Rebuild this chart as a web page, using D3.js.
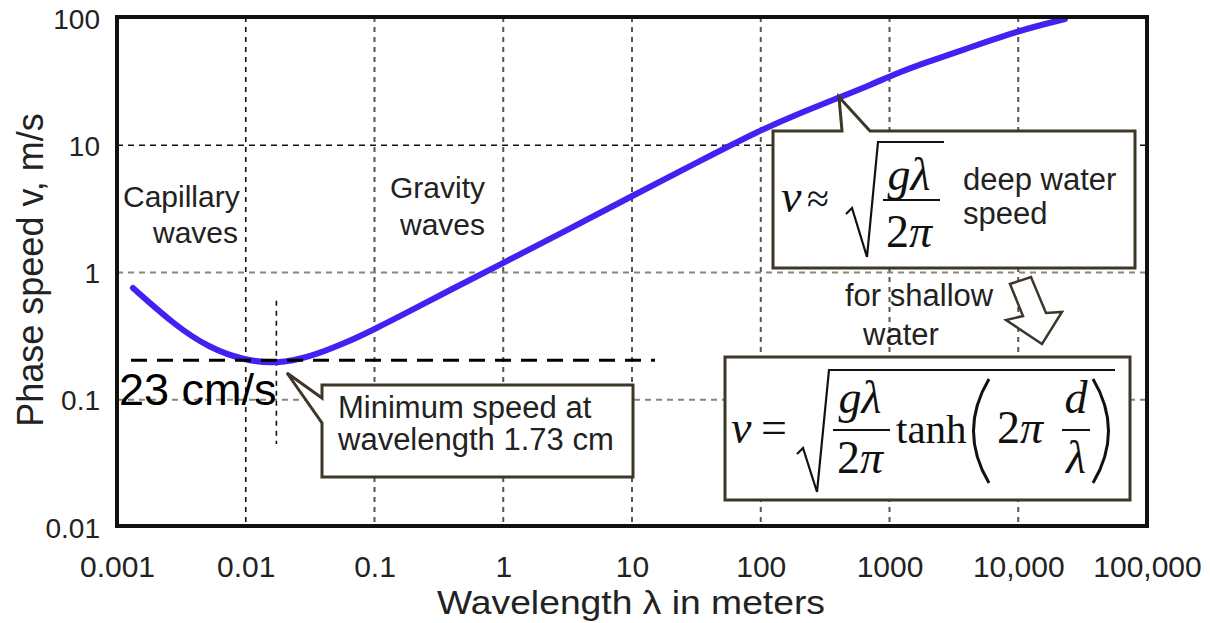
<!DOCTYPE html>
<html>
<head>
<meta charset="utf-8">
<script src="https://cdn.jsdelivr.net/npm/d3@7"></script>
<style>
  html, body { margin: 0; padding: 0; background: #fff; }
  svg { display: block; }
  text { font-family: "Liberation Sans", Arial, Helvetica, sans-serif; }
  .math { font-family: "Liberation Serif", "Times New Roman", serif; }
</style>
</head>
<body>
<div id="chart"></div>
<script>
// ---------------- data ----------------
const xTickValues = [0.001, 0.01, 0.1, 1, 10, 100, 1000, 10000, 100000];
const xTickLabels = ["0.001", "0.01", "0.1", "1", "10", "100", "1000", "10,000", "100,000"];
const yTickValues = [0.01, 0.1, 1, 10, 100];
const yTickLabels = ["0.01", "0.1", "1", "10", "100"];

// phase speed curve (wavelength in m, speed in m/s)
const wavelengths = [0.00133, 0.00292, 0.00527, 0.00953, 0.0175, 0.0316, 0.0569, 0.0973, 0.189, 0.386, 1.0, 2.76, 10, 33.7, 100, 202, 413, 706, 1208, 2065, 3532, 9772, 23070];
const speeds      = [0.755,   0.373,   0.255,   0.205,   0.191,  0.217,  0.274,  0.353,  0.498, 0.728, 1.19, 2.01, 3.99, 7.52, 13.2, 17.9, 23.9, 29.7, 37.7, 45.9, 55.1, 79.1, 98.2];

const minWavelength = 0.0173;  // m
const minSpeedLine = 0.204;    // m/s (dashed level)
const regionLabels = [
  { lines: ["Capillary", "waves"] },
  { lines: ["Gravity", "waves"] }
];

// ---------------- layout ----------------
const W = 1210, H = 623;
const plot = { left: 117, right: 1147, top: 17, bottom: 526 };

const svg = d3.select("#chart").append("svg").attr("width", W).attr("height", H);

const x = d3.scaleLog().domain([0.001, 100000]).range([plot.left, plot.right]);
const y = d3.scaleLog().domain([0.01, 100]).range([527, 18]);

// ---------------- grid ----------------
const grid = svg.append("g");
grid.selectAll("line.vg").data(xTickValues.slice(1, -1)).enter().append("line")
  .attr("x1", d => x(d)).attr("x2", d => x(d))
  .attr("y1", plot.top).attr("y2", plot.bottom)
  .attr("stroke", (d, i) => i === 0 ? "#111" : "#555")
  .attr("stroke-width", (d, i) => i === 0 ? 1.6 : 2)
  .attr("stroke-dasharray", "5,5");
grid.selectAll("line.hg").data(yTickValues.slice(1, -1)).enter().append("line")
  .attr("x1", plot.left).attr("x2", plot.right)
  .attr("y1", d => y(d)).attr("y2", d => y(d))
  .attr("stroke", d => d === 10 ? "#111" : "#8d8472")
  .attr("stroke-width", d => d === 10 ? 1.6 : 2.2)
  .attr("stroke-dasharray", "6,5");

// vertical marker at minimum wavelength
svg.append("line")
  .attr("x1", x(minWavelength)).attr("x2", x(minWavelength))
  .attr("y1", y(0.6)).attr("y2", y(0.045))
  .attr("stroke", "#111").attr("stroke-width", 1.6).attr("stroke-dasharray", "5,5");

// ---------------- axes ----------------
const xAxis = d3.axisBottom(x).tickValues(xTickValues)
  .tickFormat((d, i) => xTickLabels[i]).tickSize(0).tickPadding(0);
const gx = svg.append("g").attr("transform", `translate(0,${plot.bottom})`).call(xAxis);
gx.select(".domain").remove();
gx.selectAll("text").attr("y", 51).attr("dy", 0)
  .attr("font-size", 30).attr("fill", "#222")
  .style("font-family", '"Liberation Sans", Arial, sans-serif');

const yAxis = d3.axisLeft(y).tickValues(yTickValues)
  .tickFormat((d, i) => yTickLabels[i]).tickSize(0).tickPadding(0);
const gy = svg.append("g").attr("transform", "translate(100,0)").call(yAxis);
gy.select(".domain").remove();
gy.selectAll("text").attr("x", 0).attr("dy", "0.36em")
  .attr("font-size", 28).attr("fill", "#222")
  .style("font-family", '"Liberation Sans", Arial, sans-serif');

// axis titles
svg.append("text").attr("x", 631).attr("y", 614).attr("text-anchor", "middle")
  .attr("font-size", 33).attr("textLength", 388).attr("lengthAdjust", "spacingAndGlyphs")
  .attr("fill", "#222").text("Wavelength λ in meters");
svg.append("text").attr("transform", "translate(43,270) rotate(-90)")
  .attr("text-anchor", "middle").attr("font-size", 36).attr("fill", "#222")
  .text("Phase speed v, m/s");

// region labels
const rl = svg.append("g").attr("font-size", 30).attr("fill", "#222");
rl.append("text").attr("x", 123).attr("y", 207).text(regionLabels[0].lines[0]);
rl.append("text").attr("x", 153).attr("y", 243).text(regionLabels[0].lines[1]);
rl.append("text").attr("x", 390).attr("y", 198).text(regionLabels[1].lines[0]);
rl.append("text").attr("x", 400).attr("y", 235).text(regionLabels[1].lines[1]);

// ---------------- curve ----------------
const pts = wavelengths.map((w, i) => [w, speeds[i]]);
const line = d3.line().x(d => x(d[0])).y(d => y(d[1])).curve(d3.curveBasis);
svg.append("path").datum(pts).attr("d", line)
  .attr("fill", "none").attr("stroke", "#4321f2").attr("stroke-width", 6)
  .attr("stroke-linecap", "round");

// dashed minimum level
svg.append("line")
  .attr("x1", 131).attr("x2", 655)
  .attr("y1", y(minSpeedLine)).attr("y2", y(minSpeedLine))
  .attr("stroke", "#000").attr("stroke-width", 3).attr("stroke-dasharray", "16,10");

svg.append("text").attr("x", 119).attr("y", 405).attr("font-size", 45).attr("fill", "#000")
  .text("23 cm/s");

// ---------------- callouts ----------------
const boxStroke = "#3d3629";
// minimum speed callout
svg.append("path")
  .attr("d", "M322,385 L633,385 L633,477 L322,477 L322,423 L287,373 L322,398 Z")
  .attr("fill", "#fff").attr("stroke", boxStroke).attr("stroke-width", 3).attr("stroke-linejoin", "miter");
const mc = svg.append("g").attr("font-size", 31).attr("fill", "#222");
mc.append("text").attr("x", 338).attr("y", 418).text("Minimum speed at");
mc.append("text").attr("x", 338).attr("y", 450).text("wavelength 1.73 cm");

// deep water callout
svg.append("path")
  .attr("d", "M773,131 L842,131 L839,97 L870,131 L1135,131 L1135,268 L773,268 Z")
  .attr("fill", "#fff").attr("stroke", boxStroke).attr("stroke-width", 3);
const dm = svg.append("g").attr("class", "math").attr("fill", "#111");
dm.append("text").attr("class", "math").attr("x", 781).attr("y", 212).attr("font-size", 46)
  .attr("font-style", "italic").text("v");
dm.append("text").attr("class", "math").attr("x", 807).attr("y", 212).attr("font-size", 40).text("≈");
dm.append("path").attr("d", "M846,214 L852,208 L867,257 L878,142 L944,142")
  .attr("fill", "none").attr("stroke", "#111").attr("stroke-width", 2.2);
dm.append("text").attr("class", "math").attr("x", 909).attr("y", 190).attr("font-size", 46)
  .attr("text-anchor", "middle").attr("font-style", "italic").text("gλ");
dm.append("line").attr("x1", 883).attr("x2", 940).attr("y1", 200).attr("y2", 200)
  .attr("stroke", "#111").attr("stroke-width", 2);
const d2 = dm.append("text").attr("class", "math").attr("x", 909).attr("y", 247).attr("font-size", 46)
  .attr("text-anchor", "middle");
d2.append("tspan").text("2");
d2.append("tspan").attr("font-style", "italic").text("π");
const dt = svg.append("g").attr("font-size", 31).attr("fill", "#222");
dt.append("text").attr("x", 963).attr("y", 190).text("deep water");
dt.append("text").attr("x", 963).attr("y", 224).text("speed");

// for shallow water
const sw = svg.append("g").attr("font-size", 31).attr("fill", "#222");
sw.append("text").attr("x", 845).attr("y", 306).text("for shallow");
sw.append("text").attr("x", 863).attr("y", 345).text("water");
svg.append("path")
  .attr("d", "M1010,284 L1031,277 L1046,313 L1062,312 L1042,344 L1006,320 L1023,316 Z")
  .attr("fill", "#fff").attr("stroke", boxStroke).attr("stroke-width", 2.5).attr("stroke-linejoin", "miter");

// shallow water formula box
svg.append("rect").attr("x", 725).attr("y", 357).attr("width", 405).attr("height", 143)
  .attr("fill", "#fff").attr("stroke", boxStroke).attr("stroke-width", 3);
const sm = svg.append("g").attr("fill", "#111");
sm.append("text").attr("class", "math").attr("x", 731).attr("y", 443).attr("font-size", 46)
  .attr("font-style", "italic").text("v");
sm.append("text").attr("class", "math").attr("x", 761).attr("y", 443).attr("font-size", 46).text("=");
sm.append("path").attr("d", "M797,454 L803,448 L817,492 L829,370 L1115,370")
  .attr("fill", "none").attr("stroke", "#111").attr("stroke-width", 2.2);
sm.append("text").attr("class", "math").attr("x", 860).attr("y", 413).attr("font-size", 46)
  .attr("text-anchor", "middle").attr("font-style", "italic").text("gλ");
sm.append("line").attr("x1", 833).attr("x2", 890).attr("y1", 430).attr("y2", 430)
  .attr("stroke", "#111").attr("stroke-width", 2);
const s2 = sm.append("text").attr("class", "math").attr("x", 860).attr("y", 473).attr("font-size", 46)
  .attr("text-anchor", "middle");
s2.append("tspan").text("2");
s2.append("tspan").attr("font-style", "italic").text("π");
sm.append("text").attr("class", "math").attr("x", 896).attr("y", 443).attr("font-size", 41).text("tanh");
sm.append("path").attr("d", "M989,379 Q958,431 989,483")
  .attr("fill", "none").attr("stroke", "#111").attr("stroke-width", 3);
const s3 = sm.append("text").attr("class", "math").attr("x", 997).attr("y", 443).attr("font-size", 46);
s3.append("tspan").text("2");
s3.append("tspan").attr("font-style", "italic").text("π");
sm.append("text").attr("class", "math").attr("x", 1076).attr("y", 413).attr("font-size", 46)
  .attr("text-anchor", "middle").attr("font-style", "italic").text("d");
sm.append("line").attr("x1", 1062).attr("x2", 1090).attr("y1", 430).attr("y2", 430)
  .attr("stroke", "#111").attr("stroke-width", 2);
sm.append("text").attr("class", "math").attr("x", 1076).attr("y", 473).attr("font-size", 46)
  .attr("text-anchor", "middle").attr("font-style", "italic").text("λ");
sm.append("path").attr("d", "M1093,379 Q1124,431 1093,483")
  .attr("fill", "none").attr("stroke", "#111").attr("stroke-width", 3);

// ---------------- frame ----------------
svg.append("rect").attr("x", plot.left).attr("y", plot.top)
  .attr("width", plot.right - plot.left).attr("height", plot.bottom - plot.top)
  .attr("fill", "none").attr("stroke", "#111").attr("stroke-width", 4);
</script>
</body>
</html>
